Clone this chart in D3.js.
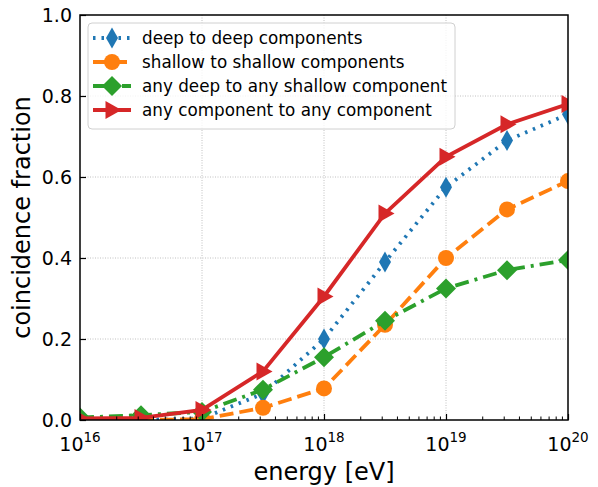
<!DOCTYPE html>
<html>
<head>
<meta charset="utf-8">
<script src="https://cdn.jsdelivr.net/npm/d3@7"></script>
<style>
  body { margin: 0; background: #fff; }
  text { font-family: "DejaVu Sans", sans-serif; }
</style>
</head>
<body>
<div id="chart"></div>
<script>
// energies in eV (half-decade steps)
const energies = [1e16, 3.162e16, 1e17, 3.162e17, 1e18, 3.162e18, 1e19, 3.162e19, 1e20];
const deepToDeep = [0.0, 0.0, 0.004, 0.065, 0.2, 0.39, 0.575, 0.69, 0.755];
const shallowToShallow = [0.0, 0.0, 0.002, 0.03, 0.078, 0.235, 0.4, 0.52, 0.59];
const deepToShallow = [0.006, 0.012, 0.02, 0.075, 0.155, 0.245, 0.325, 0.37, 0.395];
const anyToAny = [0.004, 0.005, 0.025, 0.12, 0.305, 0.51, 0.65, 0.73, 0.78];
const xTicks = [1e16, 1e17, 1e18, 1e19, 1e20];
const yTicks = [0, 0.2, 0.4, 0.6, 0.8, 1.0];

const series = [
  { name: 'deep to deep components', values: deepToDeep, color: '#1f77b4', dash: '2.5,6', marker: 'thin_diamond' },
  { name: 'shallow to shallow components', values: shallowToShallow, color: '#ff7f0e', dash: '14,6', marker: 'circle' },
  { name: 'any deep to any shallow component', values: deepToShallow, color: '#2ca02c', dash: '14,6,3,6', marker: 'diamond' },
  { name: 'any component to any component', values: anyToAny, color: '#d62728', dash: null, marker: 'triangle_right' },
];

const W = 598, H = 487;
const margin = { top: 15, right: 30, bottom: 67, left: 80 };
const width = W - margin.left - margin.right;
const height = H - margin.top - margin.bottom;

const svg = d3.select('#chart').append('svg')
  .attr('width', W).attr('height', H);

const g = svg.append('g').attr('transform', `translate(${margin.left},${margin.top})`);

const x = d3.scaleLog().domain([1e16, 1e20]).range([0, width]);
const y = d3.scaleLinear().domain([0, 1]).range([height, 0]);

// grid
g.append('g').selectAll('line').data(xTicks.slice(1, -1)).enter().append('line')
  .attr('x1', d => x(d)).attr('x2', d => x(d)).attr('y1', 0).attr('y2', height)
  .attr('stroke', '#b0b0b0').attr('stroke-width', 0.8).attr('stroke-dasharray', '1,1.5');
g.append('g').selectAll('line').data(yTicks.slice(1, -1)).enter().append('line')
  .attr('y1', d => y(d)).attr('y2', d => y(d)).attr('x1', 0).attr('x2', width)
  .attr('stroke', '#b0b0b0').attr('stroke-width', 0.8).attr('stroke-dasharray', '1,1.5');

g.append('clipPath').attr('id', 'clip').append('rect')
  .attr('width', width).attr('height', height);

function markerPath(type) {
  if (type === 'thin_diamond') return 'M0,-10.5 L6,0 L0,10.5 L-6,0 Z';
  if (type === 'diamond') return 'M0,-10 L10,0 L0,10 L-10,0 Z';
  if (type === 'triangle_right') return 'M9.5,0 L-6.5,-9 L-6.5,9 Z';
  return null;
}

function drawMarker(sel, s) {
  if (s.marker === 'circle') {
    sel.append('circle').attr('r', 8).attr('fill', s.color);
  } else {
    sel.append('path').attr('d', markerPath(s.marker)).attr('fill', s.color);
  }
}

const plot = g.append('g').attr('clip-path', 'url(#clip)');
const line = d3.line().x((d, i) => x(energies[i])).y(d => y(d));

series.forEach(s => {
  plot.append('path').datum(s.values)
    .attr('d', line)
    .attr('fill', 'none')
    .attr('stroke', s.color)
    .attr('stroke-width', 3.8)
    .attr('stroke-dasharray', s.dash);
  plot.append('g').selectAll('g').data(s.values).enter().append('g')
    .attr('transform', (d, i) => `translate(${x(energies[i])},${y(d)})`)
    .each(function () { drawMarker(d3.select(this), s); });
});

// axes
const minorTicks = [];
for (let e = 16; e < 20; e++) for (let k = 2; k <= 9; k++) minorTicks.push(k * Math.pow(10, e));

const xAxis = g.append('g').attr('transform', `translate(0,${height})`)
  .call(d3.axisBottom(x).tickValues(xTicks).tickSizeInner(-6).tickSizeOuter(0).tickPadding(10).tickFormat(''));
xAxis.select('.domain').remove();
xAxis.selectAll('line').attr('stroke-width', 1.2);
g.append('g').attr('transform', `translate(0,${height})`).selectAll('line').data(minorTicks).enter().append('line')
  .attr('x1', d => x(d)).attr('x2', d => x(d)).attr('y1', 0).attr('y2', -3.5)
  .attr('stroke', '#000').attr('stroke-width', 1);

// x tick labels with superscripts
const xl = g.append('g').attr('transform', `translate(0,${height})`);
xTicks.forEach(t => {
  const txt = xl.append('text').attr('x', x(t)).attr('y', 31)
    .attr('text-anchor', 'middle').attr('font-size', 19).attr('fill', '#000');
  txt.append('tspan').text('10');
  txt.append('tspan').attr('dy', -9).attr('font-size', 13.5).text(Math.round(Math.log10(t)));
});

const yAxis = g.append('g')
  .call(d3.axisLeft(y).tickValues(yTicks).tickSizeInner(-6).tickSizeOuter(0).tickPadding(8).tickFormat(d3.format('.1f')));
yAxis.select('.domain').remove();
yAxis.selectAll('line').attr('stroke-width', 1.2);
yAxis.selectAll('text').attr('font-size', 19).attr('font-family', '"DejaVu Sans", sans-serif').attr('fill', '#000').attr('dy', '0.36em');

// frame
g.append('rect').attr('width', width).attr('height', height)
  .attr('fill', 'none').attr('stroke', '#000').attr('stroke-width', 1.5);

// axis labels
svg.append('text').attr('x', margin.left + width / 2).attr('y', H - 7)
  .attr('text-anchor', 'middle').attr('font-size', 24).text('energy [eV]');
svg.append('text').attr('transform', `translate(30,${margin.top + height / 2}) rotate(-90)`)
  .attr('text-anchor', 'middle').attr('font-size', 24).text('coincidence fraction');

// legend
const lg = g.append('g').attr('transform', 'translate(8,8)');
lg.append('rect').attr('width', 367).attr('height', 106).attr('rx', 4)
  .attr('fill', 'rgba(255,255,255,0.8)').attr('stroke', '#d0d0d0').attr('stroke-width', 1);
series.forEach((s, i) => {
  const row = lg.append('g').attr('transform', `translate(0,${15 + i * 24})`);
  row.append('line').attr('x1', 5).attr('x2', 43).attr('y1', 0).attr('y2', 0)
    .attr('stroke', s.color).attr('stroke-width', 3.8).attr('stroke-dasharray', s.dash);
  const m = row.append('g').attr('transform', 'translate(24,0)');
  drawMarker(m, s);
  row.append('text').attr('x', 54).attr('y', 0).attr('dy', '0.36em')
    .attr('font-size', 16.8).attr('fill', '#000').text(s.name);
});
</script>
</body>
</html>
